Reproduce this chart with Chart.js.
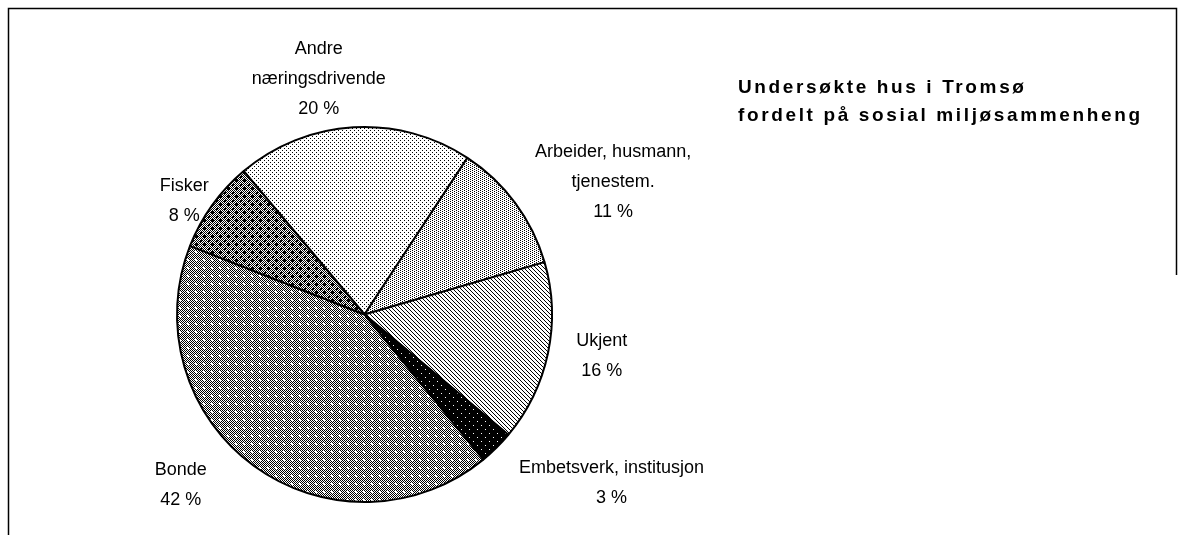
<!DOCTYPE html>
<html>
<head>
<meta charset="utf-8">
<script src="https://cdn.jsdelivr.net/npm/chart.js@4.4.1/dist/chart.umd.min.js"></script>
<style>
  html, body { margin: 0; padding: 0; background: #fff; }
  canvas { display: block; }
</style>
</head>
<body>
<canvas id="pie" width="1184" height="535"></canvas>
<script>
// data (share of houses, %)
const categories = [
  ['Andre', 'næringsdrivende'],
  ['Arbeider, husmann,', 'tjenestem.'],
  ['Ukjent'],
  ['Embetsverk, institusjon'],
  ['Bonde'],
  ['Fisker']
];
const shares = [20.4, 11.25, 15.6, 3.0, 41.9, 7.9];
const titleLines = ['Undersøkte hus i Tromsø', 'fordelt på sosial miljøsammenheng'];

// hand nudges for the labels (Excel placed them by hand)
const labelShift = [[-30, 7], [27, 12], [19, -5], [43, 7], [-52, -13], [0, 19]];

const canvas = document.getElementById('pie');
const ctx = canvas.getContext('2d');

// small black/white tiles like the old Excel fill patterns
function tile(w, h, bg, fg, pts) {
  const c = document.createElement('canvas');
  c.width = w; c.height = h;
  const t = c.getContext('2d');
  t.fillStyle = bg;
  t.fillRect(0, 0, w, h);
  t.fillStyle = fg;
  pts.forEach(p => t.fillRect(p[0], p[1], 1, 1));
  return ctx.createPattern(c, 'repeat');
}

function checker(n) {
  const pts = [];
  for (let y = 0; y < n; y++)
    for (let x = 0; x < n; x++)
      if ((x + y) % 2 === 0) pts.push([x, y]);
  return pts;
}

function checkerTile(dotColor, dot) {
  const c = document.createElement('canvas');
  c.width = 8; c.height = 8;
  const t = c.getContext('2d');
  t.fillStyle = '#fff';
  t.fillRect(0, 0, 8, 8);
  t.fillStyle = '#000';
  checker(8).forEach(p => t.fillRect(p[0], p[1], 1, 1));
  t.fillStyle = dotColor;
  dot.forEach(p => t.fillRect(p[0], p[1], 1, 1));
  return ctx.createPattern(c, 'repeat');
}

const fills = [
  tile(4, 4, '#fff', '#000', [[0, 0], [2, 2]]),
  tile(4, 2, '#fff', '#000', [[0, 0], [2, 1]]),
  tile(4, 4, '#fff', '#000', [[0, 0], [1, 1], [2, 2], [3, 3]]),
  tile(8, 8, '#000', '#fff', [[1, 1], [5, 5]]),
  checkerTile('#fff', [[3, 3], [4, 3], [3, 4], [4, 4]]),
  checkerTile('#000', [[4, 3], [3, 4], [4, 4], [5, 4], [4, 5], [0, 1], [1, 0]])
];

const total = shares.reduce((a, b) => a + b, 0);

const framePlugin = {
  id: 'frame',
  beforeDraw(chart) {
    const c = chart.ctx;
    c.save();
    c.fillStyle = '#fff';
    c.fillRect(0, 0, chart.width, chart.height);
    c.strokeStyle = '#000';
    c.lineWidth = 1.5;
    c.beginPath();
    c.moveTo(8.5, chart.height);
    c.lineTo(8.5, 8.5);
    c.lineTo(1176.5, 8.5);
    c.lineTo(1176.5, 275);
    c.stroke();
    c.restore();
  }
};

const labelPlugin = {
  id: 'labels',
  afterDraw(chart) {
    const c = chart.ctx;
    const arcs = chart.getDatasetMeta(0).data;
    c.save();
    c.fillStyle = '#000';
    c.textAlign = 'center';
    c.textBaseline = 'middle';
    c.font = '18px "Liberation Sans", Arial, sans-serif';
    const lineH = 30;
    arcs.forEach((arc, i) => {
      const lines = categories[i].concat([Math.round(shares[i] / total * 100) + ' %']);
      const w = Math.max(...lines.map(l => c.measureText(l).width));
      const h = lines.length * lineH;
      const mid = (arc.startAngle + arc.endAngle) / 2;
      const r = arc.outerRadius + 10;
      const cx = arc.x + Math.cos(mid) * (r + w / 2) + labelShift[i][0];
      const cy = arc.y + Math.sin(mid) * (r + h / 2) + labelShift[i][1];
      lines.forEach((l, k) => {
        c.fillText(l, cx, cy - h / 2 + lineH / 2 + k * lineH);
      });
    });

    // title, Excel spreads the letters out a little
    c.textAlign = 'left';
    c.font = 'bold 19px "Liberation Sans", Arial, sans-serif';
    const plain = c.measureText(titleLines[1]).width;
    const spread = Math.max(0, (402 - plain) / (titleLines[1].length - 1));
    c.letterSpacing = spread + 'px';
    c.fillText(titleLines[0], 738, 88);
    c.fillText(titleLines[1], 738, 116);
    c.restore();
  }
};

new Chart(canvas, {
  type: 'pie',
  data: {
    labels: categories.map(l => l.join(' ')),
    datasets: [{
      data: shares,
      backgroundColor: fills,
      borderColor: '#000',
      borderWidth: 2
    }]
  },
  options: {
    responsive: false,
    animation: false,
    rotation: -40.1,
    layout: {
      padding: { left: 176, right: 631, top: 126, bottom: 32 }
    },
    plugins: {
      legend: { display: false },
      tooltip: { enabled: false }
    }
  },
  plugins: [framePlugin, labelPlugin]
});
</script>
</body>
</html>
